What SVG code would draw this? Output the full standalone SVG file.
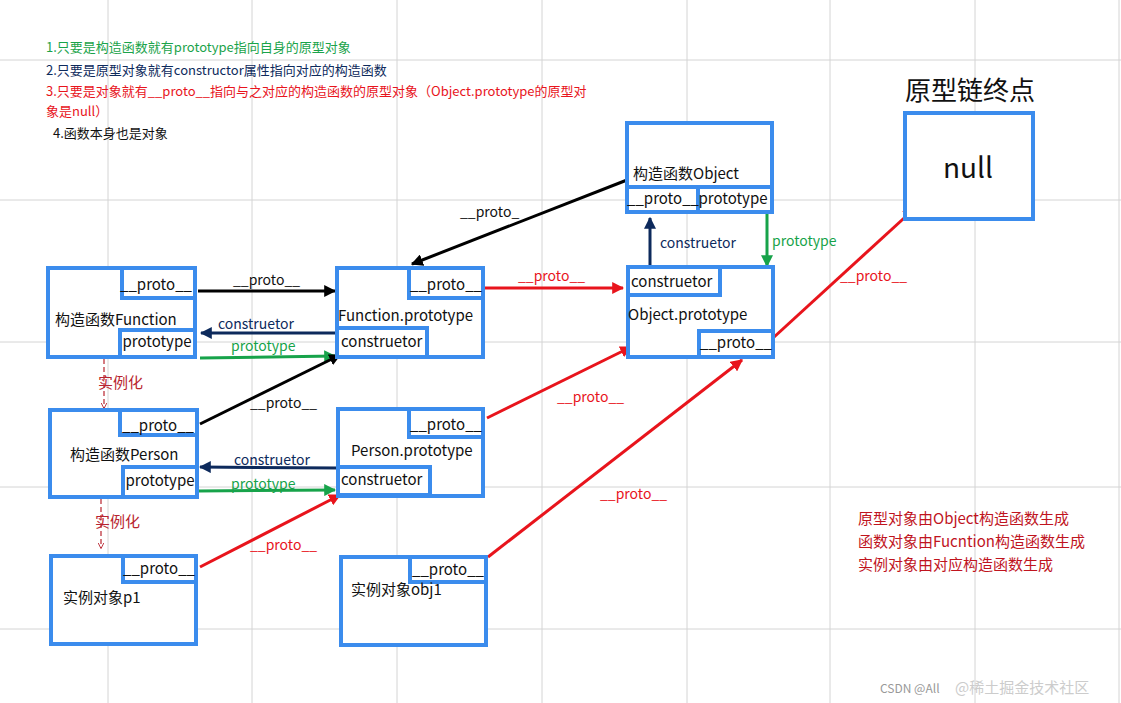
<svg xmlns="http://www.w3.org/2000/svg" width="1121" height="703" viewBox="0 0 1121 703">
<style>
text{font-family:"Noto Sans CJK SC","Noto Sans",sans-serif;}
.b{fill:#fff;stroke:#3b8ced;stroke-width:4}
.t{font-size:15px;fill:#111}
.g{stroke:#d4d4d4;stroke-width:1}
.bk{stroke:#000;stroke-width:3;fill:none}
.nv{stroke:#0d2a5c;stroke-width:3;fill:none}
.gr{stroke:#17a34a;stroke-width:3;fill:none}
.rd{stroke:#e8141c;stroke-width:3;fill:none}
.lbk{font-size:14px;fill:#111}
.lnv{font-size:14px;fill:#0d2a5c}
.lgr{font-size:14px;fill:#17a34a}
.lrd{font-size:14px;fill:#e8141c}
</style>
<defs>
<marker id="ak" viewBox="0 0 10 10" refX="9" refY="5" markerWidth="4" markerHeight="4" orient="auto"><path d="M0,0L10,5L0,10z" fill="#000"/></marker>
<marker id="an" viewBox="0 0 10 10" refX="9" refY="5" markerWidth="4" markerHeight="4" orient="auto"><path d="M0,0L10,5L0,10z" fill="#0d2a5c"/></marker>
<marker id="ag" viewBox="0 0 10 10" refX="9" refY="5" markerWidth="4" markerHeight="4" orient="auto"><path d="M0,0L10,5L0,10z" fill="#17a34a"/></marker>
<marker id="ar" viewBox="0 0 10 10" refX="9" refY="5" markerWidth="4" markerHeight="4" orient="auto"><path d="M0,0L10,5L0,10z" fill="#e8141c"/></marker>
<marker id="ad" viewBox="0 0 10 10" refX="9" refY="5" markerWidth="5" markerHeight="5" orient="auto"><path d="M0,0L10,5L0,10" fill="none" stroke="#b8232e" stroke-width="1.5"/></marker>
</defs>
<rect width="1121" height="703" fill="#fff"/>
<g id="grid">
<line class="g" x1="108" y1="0" x2="108" y2="703"/><line class="g" x1="252" y1="0" x2="252" y2="703"/><line class="g" x1="397" y1="0" x2="397" y2="703"/><line class="g" x1="542" y1="0" x2="542" y2="703"/><line class="g" x1="687" y1="0" x2="687" y2="703"/><line class="g" x1="830" y1="0" x2="830" y2="703"/><line class="g" x1="975" y1="0" x2="975" y2="703"/><line class="g" x1="1119" y1="0" x2="1119" y2="703"/>
<line class="g" x1="0" y1="60" x2="1121" y2="60"/><line class="g" x1="0" y1="200" x2="1121" y2="200"/><line class="g" x1="0" y1="342" x2="1121" y2="342"/><line class="g" x1="0" y1="487" x2="1121" y2="487"/><line class="g" x1="0" y1="629" x2="1121" y2="629"/>
</g>
<g id="notes">
<text x="46" y="52" font-size="13" fill="#1aa34a">1.只要是构造函数就有prototype指向自身的原型对象</text>
<text x="46" y="75" font-size="13" fill="#0d2a5c">2.只要是原型对象就有constructor属性指向对应的构造函数</text>
<text x="46" y="96" font-size="13" fill="#e8141c">3.只要是对象就有__proto__指向与之对应的构造函数的原型对象（Object.prototype的原型对</text>
<text x="46" y="116" font-size="13" fill="#e8141c">象是null）</text>
<text x="53" y="138" font-size="13" fill="#111">4.函数本身也是对象</text>
<text x="858" y="524" font-size="15" fill="#c0141e">原型对象由Object构造函数生成</text>
<text x="858" y="547" font-size="15" fill="#c0141e">函数对象由Fucntion构造函数生成</text>
<text x="858" y="570" font-size="15" fill="#c0141e">实例对象由对应构造函数生成</text>
<text x="905" y="100" font-size="26" fill="#111">原型链终点</text>
<text x="880" y="693" font-size="12" fill="#999">CSDN @All</text>
<text x="955" y="693" font-size="15" fill="#ccc">@稀土掘金技术社区</text>
</g>
<g id="connectors">
<path class="bk" d="M627,180L412,264" marker-end="url(#ak)"/>
<text class="lbk" x="460" y="217">__proto_</text>
<path class="bk" d="M198,291L335,291" marker-end="url(#ak)"/>
<text class="lbk" x="233" y="285">__proto__</text>
<path class="nv" d="M337,333L201,333" marker-end="url(#an)"/>
<text class="lnv" x="218" y="329">construetor</text>
<path class="gr" d="M200,358L335,356" marker-end="url(#ag)"/>
<text class="lgr" x="231" y="351">prototype</text>
<path class="bk" d="M200,424L340,355" marker-end="url(#ak)"/>
<text class="lbk" x="250" y="408">__proto__</text>
<path class="nv" d="M338,468L200,467" marker-end="url(#an)"/>
<text class="lnv" x="234" y="465">construetor</text>
<path class="gr" d="M198,491L335,490" marker-end="url(#ag)"/>
<text class="lgr" x="231" y="489">prototype</text>
<path class="rd" d="M200,567L340,495" marker-end="url(#ar)"/>
<text class="lrd" x="250" y="550">__proto__</text>
<path class="rd" d="M488,557L742,360" marker-end="url(#ar)"/>
<text class="lrd" x="600" y="499">__proto__</text>
<path class="rd" d="M487,418L631,347" marker-end="url(#ar)"/>
<text class="lrd" x="557" y="402">__proto__</text>
<path class="rd" d="M483,288L623,288" marker-end="url(#ar)"/>
<text class="lrd" x="518" y="281">__proto__</text>
<path class="nv" d="M650,267L650,218" marker-end="url(#an)"/>
<text class="lnv" x="660" y="248">construetor</text>
<path class="gr" d="M767,213L767,266" marker-end="url(#ag)"/>
<text class="lgr" x="772" y="246">prototype</text>
<path class="rd" d="M773,338L914,209" marker-end="url(#ar)"/>
<text class="lrd" x="840" y="281">__proto__</text>
<path d="M104,359L104,408" stroke="#b8232e" stroke-width="1.2" stroke-dasharray="5,3" fill="none" marker-end="url(#ad)"/>
<text x="98" y="388" font-size="15" fill="#b8232e">实例化</text>
<path d="M101,499L101,548" stroke="#b8232e" stroke-width="1.2" stroke-dasharray="5,3" fill="none" marker-end="url(#ad)"/>
<text x="95" y="527" font-size="15" fill="#b8232e">实例化</text>
</g>
<g id="ctorFunction">
<rect class="b" x="48" y="268" width="147" height="89"/>
<rect class="b" x="122" y="268" width="73" height="30"/>
<rect class="b" x="120" y="330" width="75" height="27"/>
<text class="t" x="156" y="290" text-anchor="middle">__proto__</text>
<text class="t" x="55" y="325">构造函数Function</text>
<text class="t" x="157" y="347" text-anchor="middle">prototype</text>
</g>
<g id="functionPrototype">
<rect class="b" x="337" y="268" width="146" height="89"/>
<rect class="b" x="409" y="268" width="74" height="30"/>
<rect class="b" x="337" y="328" width="90" height="29"/>
<text class="t" x="446" y="290" text-anchor="middle">__proto__</text>
<text class="t" x="338" y="321">Function.prototype</text>
<text class="t" x="341" y="347">construetor</text>
</g>
<g id="ctorPerson">
<rect class="b" x="50" y="410" width="147" height="87"/>
<rect class="b" x="120" y="410" width="77" height="25"/>
<rect class="b" x="123" y="467" width="74" height="30"/>
<text class="t" x="158" y="431" text-anchor="middle">__proto__</text>
<text class="t" x="70" y="460">构造函数Person</text>
<text class="t" x="160" y="486" text-anchor="middle">prototype</text>
</g>
<g id="personPrototype">
<rect class="b" x="338" y="409" width="145" height="87"/>
<rect class="b" x="409" y="409" width="74" height="28"/>
<rect class="b" x="338" y="467" width="92" height="28"/>
<text class="t" x="446" y="430" text-anchor="middle">__proto__</text>
<text class="t" x="351" y="456">Person.prototype</text>
<text class="t" x="341" y="485">construetor</text>
</g>
<g id="p1">
<rect class="b" x="51" y="556" width="145" height="88"/>
<rect class="b" x="123" y="556" width="73" height="26"/>
<text class="t" x="159" y="574" text-anchor="middle">__proto__</text>
<text class="t" x="63" y="603">实例对象p1</text>
</g>
<g id="obj1">
<rect class="b" x="341" y="557" width="145" height="88"/>
<rect class="b" x="410" y="557" width="76" height="25"/>
<text class="t" x="448" y="575" text-anchor="middle">__proto__</text>
<text class="t" x="351" y="595">实例对象obj1</text>
</g>
<g id="ctorObject">
<rect class="b" x="627" y="123" width="145" height="89"/>
<rect class="b" x="627" y="187" width="71" height="25"/>
<rect class="b" x="698" y="187" width="74" height="25"/>
<text class="t" x="633" y="179">构造函数Object</text>
<text class="t" x="663" y="204" text-anchor="middle">__proto__</text>
<text class="t" x="733" y="204" text-anchor="middle">prototype</text>
</g>
<g id="objectPrototype">
<rect class="b" x="628" y="267" width="145" height="90"/>
<rect class="b" x="628" y="267" width="92" height="28"/>
<rect class="b" x="699" y="331" width="74" height="26"/>
<text class="t" x="631" y="287">construetor</text>
<text class="t" x="628" y="320">Object.prototype</text>
<text class="t" x="736" y="348" text-anchor="middle">__proto__</text>
</g>
<g id="null">
<rect class="b" x="905" y="113" width="128" height="106"/>
<text x="968" y="178" font-size="28" fill="#111" text-anchor="middle">null</text>
</g>
</svg>
